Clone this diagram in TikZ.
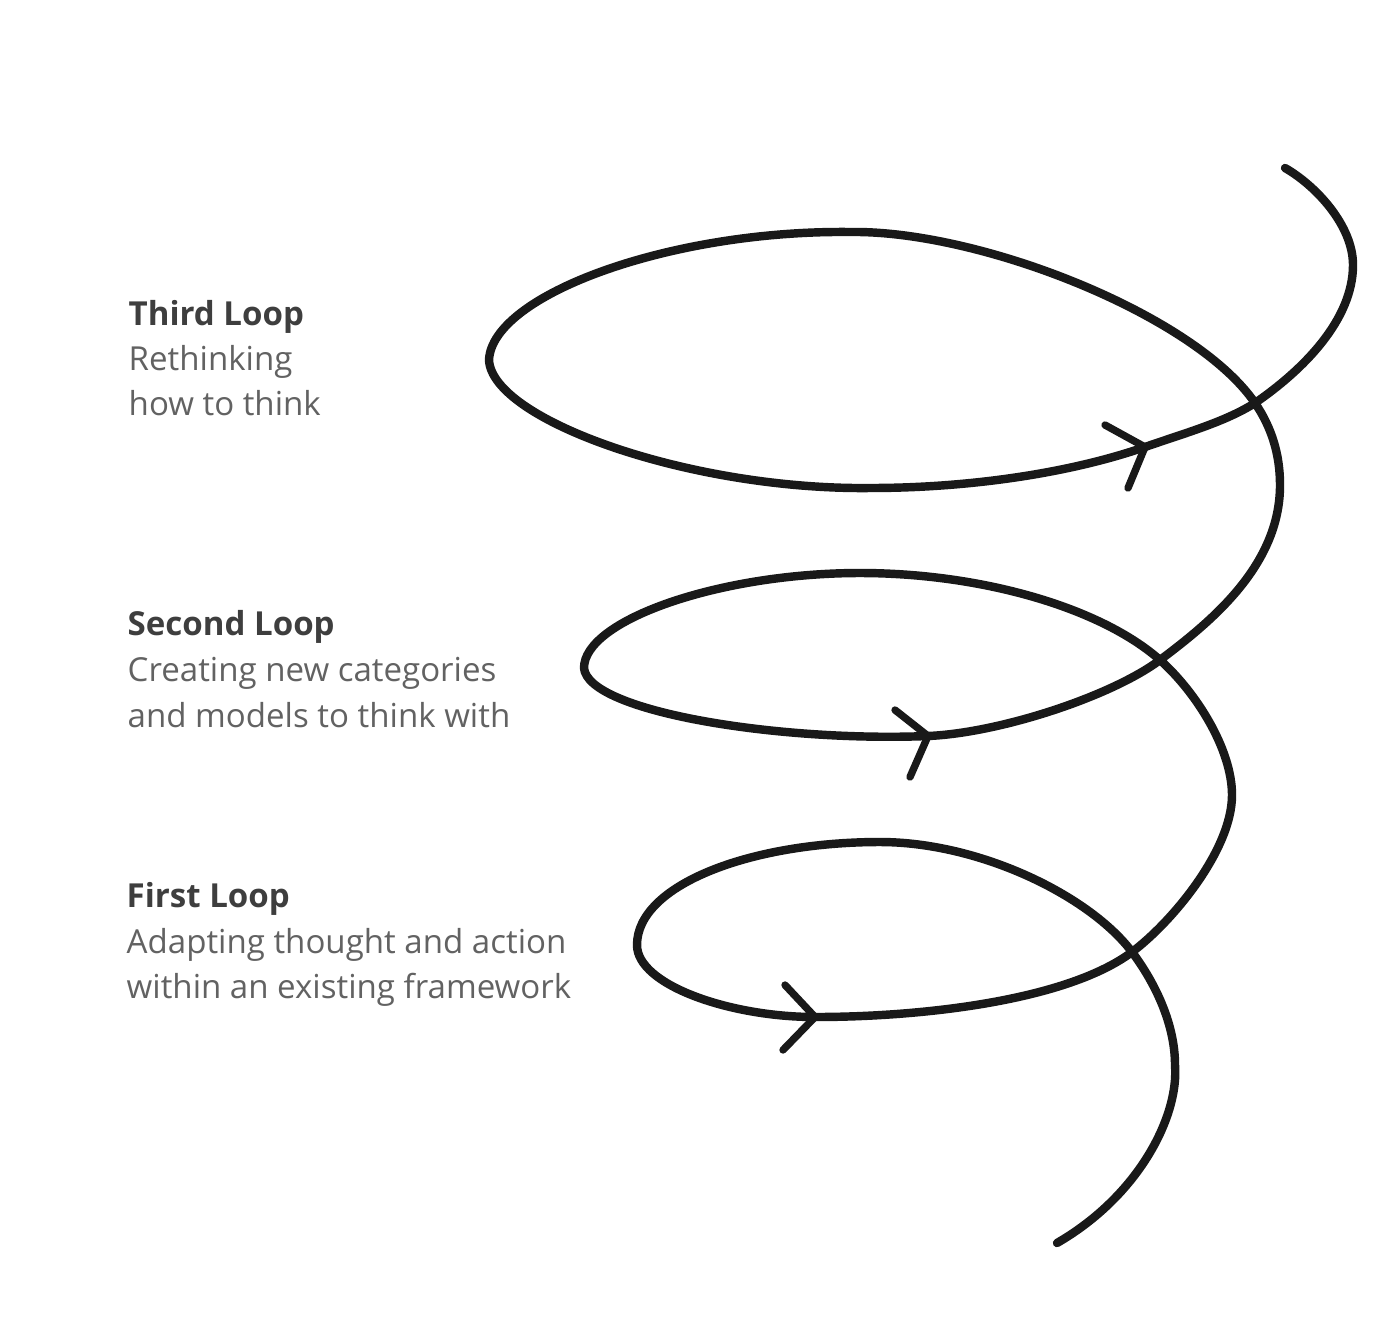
\documentclass[tikz,border=0pt]{standalone}
\usepackage{fontspec}
\setmainfont{Open Sans}
\definecolor{headgray}{HTML}{3E3E3E}
\definecolor{textgray}{HTML}{626262}
\tikzset{
    spiral/.style={line width=2.4pt, line cap=round, line join=round, black!90},
    chevron/.style={line width=2.1pt, line cap=round, line join=round, black!90},
    loophead/.style={anchor=base west, inner sep=0pt, text=headgray,
        font=\fontsize{9.4pt}{12.8pt}\selectfont\bfseries},
    loopdesc/.style={anchor=base west, inner sep=0pt, text=textgray,
        font=\fontsize{9.4pt}{12.8pt}\selectfont}
}
\begin{document}
\begin{tikzpicture}[x=0.01cm, y=-0.01cm]
    \useasboundingbox (0,0) rectangle (1400,1339);

    % Texte der Schleifen
    \node[loophead] (third)    at (128,325) {Third Loop};
    \node[loopdesc] (thirdA)   at (128,370) {Rethinking};
    \node[loopdesc] (thirdB)   at (128,415) {how to think};

    \node[loophead] (second)   at (127,635) {Second Loop};
    \node[loopdesc] (secondA)  at (127,681) {Creating new categories};
    \node[loopdesc] (secondB)  at (127,727) {and models to think with};

    \node[loophead] (first)    at (126,907) {First Loop};
    \node[loopdesc] (firstA)   at (126,953) {Adapting thought and action};
    \node[loopdesc] (firstB)   at (126,998) {within an existing framework};

    % Kreuzungen und Pfeilspitzen
    \coordinate (x1) at (1132,952);
    \coordinate (x2) at (1160,660);
    \coordinate (x3) at (1255,403);
    \coordinate (t1) at (815,1017);
    \coordinate (t2) at (928,736);
    \coordinate (t3) at (1145,447);

    % Spirale
    \draw[spiral] (1057,1243)
        .. controls (1140,1195) and (1179,1115) .. (1175,1065)
        .. controls (1175,1025) and (1156,984)  .. (x1)
        .. controls (1090,896)  and (980,842)   .. (880,842)
        .. controls (750,842)   and (637,885)   .. (637,945)
        .. controls (637,985)   and (730,1017)  .. (t1)
        .. controls (925,1017)  and (1068,1000) .. (x1)
        .. controls (1172,922)  and (1232,850)  .. (1232,795)
        .. controls (1232,750)  and (1197,693)  .. (x2)
        .. controls (1100,607)  and (980,573)   .. (860,573)
        .. controls (720,573)   and (584,620)   .. (584,668)
        .. controls (588,712)   and (780,742)   .. (t2)
        .. controls (1000,733)  and (1112,696)  .. (x2)
        .. controls (1212,621)  and (1280,565)  .. (1280,485)
        .. controls (1280,455)  and (1272,428)  .. (x3)
        .. controls (1195,315)  and (980,230)   .. (850,232)
        .. controls (670,230)   and (492,295)   .. (489,360)
        .. controls (492,420)   and (690,490)   .. (870,488)
        .. controls (970,488)   and (1070,473)  .. (t3)
        .. controls (1185,433)  and (1225,422)  .. (x3)
        .. controls (1303,370)  and (1353,320)  .. (1353,265)
        .. controls (1353,225)  and (1315,185)  .. (1285,168);

    % Pfeile
    \draw[chevron] (1105,425) -- (t3) -- (1128,488);
    \draw[chevron] (895,710)  -- (t2) -- (910,777);
    \draw[chevron] (785,985)  -- (t1) -- (783,1050);
\end{tikzpicture}
\end{document}
